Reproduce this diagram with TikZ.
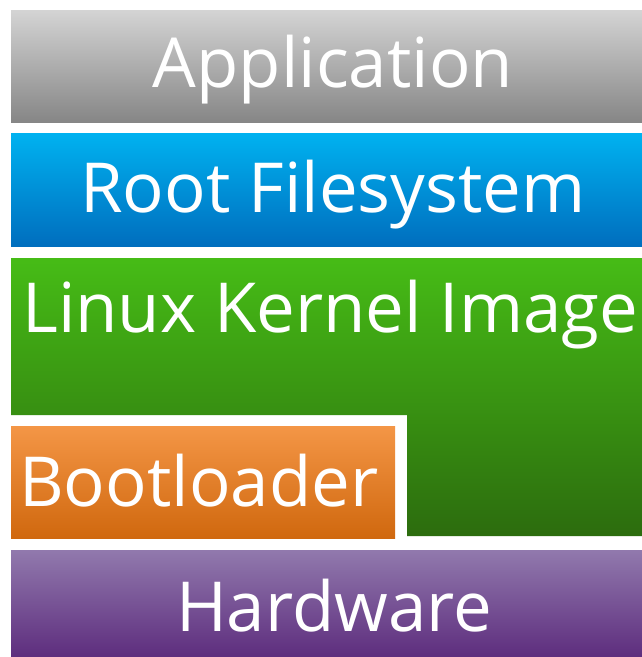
\documentclass[tikz,border=0pt]{standalone}
\usepackage{fontspec}
\setmainfont{Open Sans}
\begin{document}
\begin{tikzpicture}[x=1pt,y=-1pt,
  label/.style={text=white,inner sep=0pt,font=\fontsize{69}{72}\selectfont}]
\useasboundingbox (0,0) rectangle (642,657);
\fill[white] (0,0) rectangle (642,657);
% layer blocks, each with a vertical gradient
\shade[top color={rgb,255:red,212;green,212;blue,212},bottom color={rgb,255:red,134;green,134;blue,134}]
  (11,10) rectangle (642,122);
\shade[top color={rgb,255:red,0;green,178;blue,240},bottom color={rgb,255:red,0;green,110;blue,190}]
  (11,133) rectangle (642,246);
\shade[top color={rgb,255:red,70;green,188;blue,22},bottom color={rgb,255:red,44;green,108;blue,14}]
  (11,258) -- (642,258) -- (642,536) -- (407,536) -- (407,415) -- (11,415) -- cycle;
\shade[top color={rgb,255:red,244;green,150;blue,70},bottom color={rgb,255:red,208;green,104;blue,14}]
  (11,426) rectangle (395,538);
\shade[top color={rgb,255:red,145;green,121;blue,173},bottom color={rgb,255:red,94;green,46;blue,126}]
  (11,550) rectangle (642,656);
% labels
\node[label,anchor=base] (app) at (333,87) {Application};
\node[label,anchor=base] (rootfs) at (333,212) {Root Filesystem};
\node[label,anchor=base west] (kernel) at (22,332) {Linux Kernel Image};
\node[label,anchor=base west] (boot) at (19,506) {Bootloader};
\node[label,anchor=base] (hw) at (334,631) {Hardware};
\end{tikzpicture}
\end{document}
